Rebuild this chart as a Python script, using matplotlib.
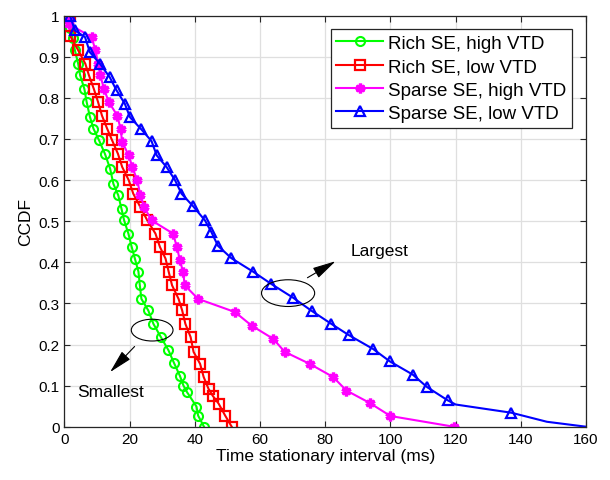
import matplotlib
matplotlib.use('Agg')
import matplotlib.pyplot as plt
from matplotlib.patches import Ellipse

plt.rcParams['font.family'] = ['Liberation Sans', 'DejaVu Sans']

# Rich SE, high VTD
rich_high_x = [1.0, 1.8, 2.5, 3.2, 4.2, 4.8, 6.1, 6.8, 7.8, 8.9, 10.6, 12.4, 14.0, 15.0, 16.5, 17.5, 18.3,
               19.6, 20.6, 21.6, 22.7, 23.1, 23.6, 25.7, 27.3, 29.5, 31.9, 33.6, 35.4, 36.5, 37.6, 40.5, 41.0, 42.8]
rich_high_y = [1.0, 0.97, 0.945, 0.916, 0.883, 0.855, 0.822, 0.79, 0.754, 0.725, 0.697, 0.664, 0.628, 0.591,
               0.563, 0.530, 0.502, 0.47, 0.438, 0.409, 0.377, 0.345, 0.311, 0.283, 0.25, 0.219, 0.186, 0.155,
               0.124, 0.10, 0.084, 0.049, 0.027, 0.0]

# Rich SE, low VTD
rich_low_x = [1.8, 1.8, 4.2, 6.4, 7.5, 9.0, 10.3, 11.5, 13.1, 14.6, 16.4, 17.7, 19.7, 21.1, 23.3, 25.4, 27.9,
              29.3, 31.0, 32.0, 33.0, 35.0, 36.1, 37.1, 38.7, 39.6, 41.6, 42.7, 44.2, 45.5, 47.3, 49.3, 51.3]
rich_low_y = [1.0, 0.95, 0.916, 0.883, 0.855, 0.822, 0.79, 0.757, 0.725, 0.697, 0.664, 0.632, 0.6, 0.567,
              0.534, 0.502, 0.47, 0.437, 0.409, 0.376, 0.344, 0.311, 0.283, 0.25, 0.218, 0.182, 0.153, 0.121,
              0.092, 0.075, 0.056, 0.027, 0.0]

# Sparse SE, high VTD
sparse_high_x = [1.0, 1.3, 8.3, 9.5, 10.3, 11.0, 12.1, 13.6, 16.2, 17.2, 17.7, 19.7, 20.8, 22.3, 23.3, 24.5,
                 26.7, 33.3, 34.5, 35.4, 36.4, 36.9, 41.0, 52.3, 57.4, 64.0, 67.6, 75.2, 82.4, 86.5, 93.6,
                 100.0, 119.4]
sparse_high_y = [1.0, 0.98, 0.948, 0.916, 0.883, 0.855, 0.822, 0.79, 0.757, 0.725, 0.693, 0.66, 0.632, 0.6,
                 0.563, 0.534, 0.502, 0.47, 0.437, 0.405, 0.376, 0.344, 0.311, 0.279, 0.246, 0.214, 0.182,
                 0.153, 0.121, 0.088, 0.058, 0.026, 0.0]

# Sparse SE, low VTD
sparse_low_x = [1.7, 3.2, 6.3, 7.8, 10.9, 13.9, 16.0, 18.5, 20.1, 23.4, 26.7, 28.3, 31.3, 33.9, 35.9, 39.5,
                43.1, 45.1, 47.1, 51.2, 57.9, 63.5, 70.1, 75.8, 81.9, 87.2, 94.7, 99.8, 106.8, 111.3, 117.6,
                120.0, 137.1, 148.0, 160.0]
sparse_low_y = [1.0, 0.964, 0.948, 0.911, 0.883, 0.85, 0.818, 0.786, 0.753, 0.725, 0.695, 0.66, 0.632, 0.6,
                0.567, 0.536, 0.502, 0.473, 0.44, 0.41, 0.377, 0.347, 0.314, 0.282, 0.25, 0.223, 0.189, 0.159,
                0.127, 0.096, 0.064, 0.054, 0.034, 0.012, 0.0]
sparse_low_marks = [i for i in range(len(sparse_low_x)) if i not in (31, 33, 34)]

labels = ['Rich SE, high VTD', 'Rich SE, low VTD', 'Sparse SE, high VTD', 'Sparse SE, low VTD']

fig = plt.figure(figsize=(6.1, 4.81), dpi=100)
ax = fig.add_axes([0.1057, 0.1108, 0.855, 0.8545])

lw = 1.5
ax.plot(rich_high_x, rich_high_y, color='#00ff00', lw=lw, marker='o', ms=6.5, mfc='none', mew=1.5,
        label=labels[0])
ax.plot(rich_low_x, rich_low_y, color='#ff0000', lw=lw, marker='s', ms=7, mfc='none', mew=1.6,
        label=labels[1])
ax.plot(sparse_high_x, sparse_high_y, color='#ff00ff', lw=lw, marker=(6, 2, 0), ms=7, mew=2.4,
        label=labels[2])
ax.plot(sparse_low_x, sparse_low_y, color='#0000ff', lw=lw, marker='^', ms=7.5, mfc='none', mew=1.6,
        markevery=sparse_low_marks, label=labels[3])

# annotations
arrow_style = dict(arrowstyle='-|>,head_length=0.9,head_width=0.22', color='black', lw=0.8,
                   mutation_scale=16)
ax.add_patch(Ellipse((68.6, 0.325), 16.3, 0.065, fill=False, ec='black', lw=0.8, zorder=5))
ax.annotate('', xy=(83.9, 0.406), xytext=(73.8, 0.359), arrowprops=arrow_style)
ax.text(87.7, 0.428, 'Largest', fontsize=12.5, va='center', ha='left')

ax.add_patch(Ellipse((26.9, 0.235), 12.8, 0.053, fill=False, ec='black', lw=0.8, zorder=5))
ax.annotate('', xy=(13.4, 0.128), xytext=(22.1, 0.2), arrowprops=arrow_style)
ax.text(4.0, 0.085, 'Smallest', fontsize=12.5, va='center', ha='left')

ax.set_xlim(0, 160)
ax.set_ylim(0, 1)
ax.set_xticks(range(0, 161, 20))
ax.set_yticks([i / 10 for i in range(11)])
ax.set_yticklabels(['0', '0.1', '0.2', '0.3', '0.4', '0.5', '0.6', '0.7', '0.8', '0.9', '1'])
ax.tick_params(direction='in', top=True, right=True, labelsize=11, length=4, color='#262626')
ax.grid(True, color='#dfdfdf', lw=0.9)
ax.set_axisbelow(True)
for s in ax.spines.values():
    s.set_color('#262626')
    s.set_linewidth(0.9)

ax.set_xlabel('Time stationary interval (ms)', fontsize=12.5, labelpad=2)
ax.set_ylabel('CCDF', fontsize=12.5, labelpad=4)

leg = ax.legend(loc='upper right', bbox_to_anchor=(0.9725, 0.967), fontsize=13.5, fancybox=False,
                framealpha=1, edgecolor='#262626', borderpad=0.3, labelspacing=0.33, handlelength=2.5,
                handletextpad=0.25, borderaxespad=0)
leg.get_frame().set_linewidth(0.9)

plt.savefig('out.png', dpi=100)
